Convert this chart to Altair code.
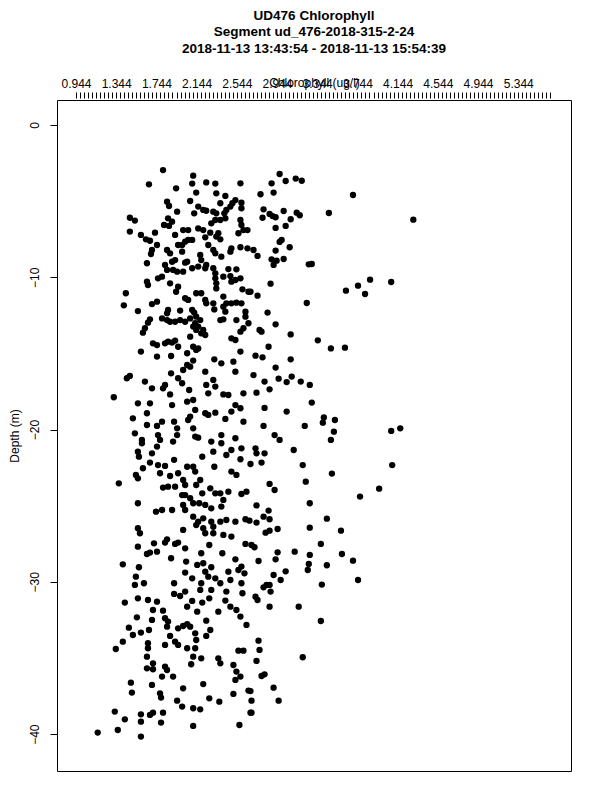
import altair as alt
import pandas as pd

TITLE_LINES = [
    "UD476 Chlorophyll",
    "Segment ud_476-2018-315-2-24",
    "2018-11-13 13:43:54 - 2018-11-13 15:54:39",
]
X_TITLE = "Chlorophyll (ug/l)"
Y_TITLE = "Depth (m)"
X_LABELS = ["0.944", "1.344", "1.744", "2.144", "2.544", "2.944",
            "3.344", "3.744", "4.144", "4.544", "4.944", "5.344"]
X_TICK_START = 0.944
X_TICK_STEP = 0.04
X_TICK_COUNT = 119
Y_TICKS = [0, -10, -20, -30, -40]
X_DOMAIN = [0.755, 5.869]
Y_DOMAIN = [-42.42, 1.64]

# (chlorophyll ug/l, depth m), by region
upper_core = [
    (1.81,-2.96),(2.11,-3.33),(1.67,-3.90),(2.10,-3.85),(2.24,-3.77),(2.33,-3.85),(2.58,-3.83),
    (1.94,-4.16),(2.14,-4.44),(2.34,-4.49),(2.43,-4.66),(1.85,-5.04),(1.87,-5.32),(2.08,-4.99),
    (2.16,-5.36),(2.21,-5.58),(2.24,-5.63),(2.38,-5.14),(2.53,-4.93),(2.50,-5.14),(2.48,-5.36),
    (2.44,-5.58),(2.42,-5.80),(2.59,-5.10),(2.59,-5.47),(1.95,-5.69),(2.12,-5.80),(2.31,-5.69),
    (2.34,-5.80),(2.33,-6.24),(2.38,-6.24),(2.43,-6.13),(1.48,-6.09),(1.53,-6.28),(1.86,-6.13),
    (1.90,-6.35),(1.82,-6.57),(1.87,-6.63),(2.29,-6.46),(2.58,-6.24),(2.59,-6.57),(2.61,-6.90),
    (2.56,-7.11),(2.65,-6.90),(1.48,-7.00),(1.59,-7.22),(1.64,-7.51),(1.68,-7.60),(1.73,-7.07),
    (2.01,-6.90),(2.06,-6.90),(2.16,-6.79),(2.21,-6.90),(2.23,-7.38),(2.28,-7.07),(2.34,-7.33),
    (2.38,-7.51),(2.36,-7.11),(1.93,-7.22),(1.96,-7.88),(2.00,-7.88),(2.03,-7.66),(2.06,-7.55),
    (2.10,-7.55),(1.75,-7.88),(1.70,-8.21),(1.69,-8.47),(1.85,-8.21),(1.88,-8.43),(1.90,-8.98),
    (1.93,-8.87),(2.00,-8.32),(2.05,-8.98),(2.18,-8.54),(2.19,-8.87),(2.26,-7.88),(2.31,-8.21),
    (2.33,-8.43),(2.39,-8.65),(2.49,-8.10),(2.48,-8.32),(2.58,-8.03),(2.65,-8.10),(1.65,-9.08),
    (1.83,-9.19),(1.85,-9.52),(1.91,-9.52),(1.95,-9.63),(2.01,-9.63),(2.03,-9.04),(2.10,-9.41),
    (2.16,-9.30),(2.23,-9.41),(2.24,-9.19),(2.31,-9.41),(2.33,-9.74),(2.33,-10.07),(2.34,-10.40),
    (2.41,-9.96),(2.46,-9.46),(2.54,-9.48),(2.48,-9.92),(2.49,-10.29),(2.53,-10.18),(2.58,-10.07),
    (1.65,-10.29),(1.66,-10.51),(1.76,-10.07),(1.80,-9.96),(1.88,-10.40),(1.96,-10.62),(1.94,-10.95),
    (2.14,-11.05),(2.19,-11.05),(2.23,-11.49),(2.24,-11.71),(2.31,-11.71),(2.34,-10.73),(2.41,-11.27),
    (2.60,-10.79),(2.66,-10.95),(1.44,-11.05),(1.42,-11.84),(1.56,-12.22),(1.70,-11.76),(1.75,-11.60),
    (1.86,-12.15),(1.85,-12.37),(1.98,-12.19),(2.03,-11.38),(2.06,-11.49),(2.10,-12.15),(2.12,-12.32),
    (2.14,-12.59),(2.18,-12.81),(2.21,-13.46),(2.16,-13.24),(2.11,-13.24),(2.32,-12.11),(2.41,-11.93),
    (2.44,-11.71),(2.49,-11.71),(2.54,-11.67),(2.59,-11.71),(2.63,-12.26),(2.43,-12.26),(1.68,-12.76),
    (1.66,-12.98),(1.80,-12.70),(1.85,-12.81),(1.88,-12.92),(1.93,-12.92),(1.98,-12.81),(2.03,-12.92),
    (2.08,-12.70),(2.13,-13.02),(2.14,-13.46),(2.19,-13.68),(2.23,-13.79),(2.38,-12.81),(2.41,-12.76),
    (2.54,-12.81),(2.63,-12.59),(2.66,-13.02),(2.61,-13.35),(2.58,-13.57),(1.63,-13.35),(1.61,-13.64),
    (2.08,-13.90),(2.49,-14.01),(2.53,-14.12),(1.71,-14.34),(1.75,-14.45),(1.83,-14.34),(1.86,-14.23),
    (1.90,-14.29),(1.93,-14.16),(1.96,-14.56),(2.11,-14.56),(2.16,-14.67),
]
upper_high = [
    (2.97,-3.22),(3.03,-3.68),(3.13,-3.52),(3.19,-3.66),(2.89,-3.83),(2.78,-4.55),(2.91,-4.44),
    (3.70,-4.60),(3.46,-5.78),(4.30,-6.22),(2.81,-5.54),(2.80,-6.09),(2.87,-5.84),(2.90,-5.98),
    (2.93,-6.06),(3.01,-5.65),(3.14,-5.76),(3.17,-5.93),(3.08,-6.19),(3.03,-6.63),(2.93,-6.76),
    (2.97,-7.68),(2.99,-7.55),(2.93,-8.25),(3.07,-8.03),(2.89,-8.82),(2.91,-9.19),(2.94,-8.91),
    (3.01,-8.80),(3.29,-9.13),(3.26,-9.15),(2.88,-10.42),(3.63,-10.88),(3.75,-10.55),(3.87,-10.16),
    (3.82,-11.10),(4.08,-10.31),(3.24,-11.69),(2.75,-11.21),(2.85,-12.32),(2.93,-13.09),(3.08,-13.75),
    (3.35,-14.14),(2.77,-13.46),(2.79,-13.57),(3.48,-14.67),(3.62,-14.62),(2.86,-14.56),(2.71,-8.21),
    (2.75,-8.60),(2.68,-10.95),
]
middle_core = [
    (1.59,-14.88),(1.75,-15.21),(1.89,-15.17),(2.05,-14.99),(2.14,-14.77),(2.32,-15.39),(2.39,-15.65),
    (2.51,-15.54),(2.53,-16.20),(2.58,-14.88),(2.05,-15.76),(2.08,-15.87),(2.11,-15.47),(2.01,-16.09),
    (1.89,-16.31),(1.96,-16.63),(2.00,-16.96),(1.45,-16.63),(1.48,-16.48),(1.63,-16.85),(1.70,-17.29),
    (1.81,-17.29),(1.83,-17.07),(2.23,-16.20),(2.24,-17.07),(2.31,-16.74),(2.33,-17.18),(2.26,-17.62),
    (2.41,-17.69),(2.46,-17.73),(2.61,-17.62),(1.88,-17.69),(1.90,-18.39),(2.07,-17.40),(1.32,-17.88),
    (1.56,-18.28),(1.68,-18.28),(2.05,-18.17),(2.11,-18.06),(2.13,-18.71),(2.08,-19.15),(2.06,-19.37),
    (2.23,-18.93),(2.26,-19.04),(2.33,-18.89),(2.43,-19.30),(2.49,-18.82),(2.53,-18.39),(2.58,-18.60),
    (2.61,-19.48),(1.65,-18.93),(1.51,-19.26),(1.65,-19.70),(1.75,-19.76),(1.80,-19.48),(1.92,-19.48),
    (1.95,-19.92),(2.11,-19.92),(2.13,-20.46),(2.16,-20.53),(2.29,-20.79),(2.39,-20.36),(2.39,-20.90),
    (2.53,-20.57),(1.53,-20.25),(1.60,-20.68),(1.60,-20.90),(1.76,-20.36),(1.78,-20.68),(1.75,-21.12),
    (1.70,-21.56),(1.91,-20.79),(1.95,-20.36),(1.56,-21.45),(1.57,-21.78),(1.92,-21.99),(2.05,-22.44),
    (2.11,-22.44),(2.13,-22.76),(2.20,-21.78),(2.31,-21.45),(2.32,-22.44),(2.44,-21.67),(2.49,-21.34),
    (2.59,-21.23),(2.58,-21.95),(2.49,-22.76),(2.54,-22.98),(1.68,-22.17),(1.61,-22.54),(1.76,-22.33),
    (1.83,-22.39),(1.54,-22.98),(1.56,-23.20),(1.37,-23.53),(1.78,-22.87),(1.88,-23.05),(1.96,-22.87),
    (2.01,-23.31),(2.03,-23.64),(2.14,-23.64),(2.18,-23.31),(2.20,-24.19),(2.28,-23.86),(2.33,-24.19),
    (2.38,-24.19),(2.46,-24.08),(2.59,-24.23),(2.64,-24.08),(1.81,-23.81),(1.86,-23.75),(1.93,-23.75),
    (2.00,-24.30),(2.03,-24.30),(2.08,-24.51),(2.11,-24.84),(2.01,-24.95),(2.17,-24.84),(2.23,-24.95),
    (2.29,-25.17),(2.41,-24.62),(2.39,-25.06),(1.56,-24.84),(1.74,-25.39),(1.80,-25.28),(1.90,-25.28),
    (2.03,-25.28),(2.11,-25.72),(2.16,-26.05),(2.21,-25.83),(2.29,-26.05),(2.31,-26.38),(2.38,-26.05),
    (2.44,-25.94),(2.53,-26.05),(2.63,-25.89),(2.21,-26.48),(2.23,-26.81),(2.31,-26.81),(2.41,-26.92),
    (2.49,-27.03),(1.56,-26.48),(1.58,-26.81),(2.01,-26.59),(2.14,-26.27),(1.85,-27.21),
]
middle_high = [
    (2.73,-15.15),(2.80,-15.26),(3.08,-15.39),(2.93,-15.93),(2.71,-16.42),(2.82,-16.85),(2.96,-16.66),
    (3.04,-16.88),(3.09,-16.52),(3.18,-16.85),(3.27,-17.07),(2.87,-17.36),(2.74,-17.58),(3.29,-18.23),
    (2.82,-18.58),(3.04,-18.82),(3.41,-19.20),(3.52,-19.37),(3.40,-19.55),(2.81,-19.76),(3.22,-19.76),
    (3.51,-20.14),(2.92,-20.36),(2.97,-20.68),(3.48,-20.68),(4.08,-20.09),(4.17,-19.92),(3.11,-21.34),
    (2.73,-21.23),(2.74,-21.56),(2.82,-21.56),(2.79,-22.17),(2.68,-22.26),(3.20,-22.33),(4.09,-22.33),
    (3.49,-22.89),(3.23,-23.42),(2.87,-23.57),(2.92,-23.97),(3.96,-23.88),(3.77,-24.40),(2.74,-24.98),
    (2.86,-25.32),(3.27,-24.84),(2.81,-25.72),(2.87,-25.89),(3.44,-25.85),(3.27,-26.44),(2.95,-26.53),
    (2.87,-26.64),(2.83,-26.77),(3.58,-26.64),(2.74,-26.11),(2.67,-25.98),
]
lower_core = [
    (1.56,-27.69),(1.72,-27.47),(1.83,-27.42),(1.93,-27.51),(1.96,-27.42),(2.03,-27.80),(2.19,-28.12),
    (2.27,-27.58),(2.40,-28.12),(2.53,-28.52),(2.63,-27.51),(1.41,-28.85),(1.57,-29.04),(1.68,-28.08),
    (1.75,-28.02),(1.65,-28.17),(1.89,-28.45),(2.04,-28.67),(2.15,-28.89),(2.21,-28.78),(2.29,-29.04),
    (2.23,-29.33),(2.26,-29.66),(2.33,-29.77),(2.38,-30.09),(2.46,-29.33),(2.56,-29.22),(2.59,-29.00),
    (2.62,-29.44),(1.54,-29.66),(1.53,-30.20),(1.62,-30.09),(1.92,-30.09),(2.03,-29.39),(2.10,-29.77),
    (2.19,-30.09),(2.18,-30.53),(2.29,-30.53),(2.44,-30.64),(2.48,-29.88),(2.59,-30.09),(2.60,-30.75),
    (1.43,-31.36),(1.56,-31.08),(1.66,-31.19),(1.75,-31.30),(1.71,-31.85),(1.81,-31.89),(1.92,-30.79),
    (1.98,-30.93),(2.03,-30.64),(2.05,-31.63),(2.10,-31.25),(2.15,-31.96),(2.20,-31.36),(2.27,-31.08),
    (2.36,-31.96),(2.43,-31.23),(2.48,-31.63),(2.54,-31.85),(2.58,-32.28),(2.64,-32.83),(1.55,-32.33),
    (1.47,-33.01),(1.51,-33.49),(1.59,-33.33),(1.67,-33.16),(1.70,-32.50),(1.83,-32.39),(1.86,-32.61),
    (1.85,-32.94),(1.88,-33.55),(1.96,-33.05),(2.01,-32.90),(2.05,-32.77),(2.08,-32.94),(2.13,-33.38),
    (2.14,-33.82),(2.24,-32.55),(2.28,-33.16),(2.24,-33.55),(1.83,-34.14),(1.93,-33.93),(1.96,-34.14),
    (2.05,-34.36),(2.13,-34.36),(1.34,-34.41),(1.41,-33.93),(1.66,-34.03),(1.66,-34.36),(1.65,-34.91),
    (1.71,-35.35),(1.65,-35.68),(1.71,-35.74),(1.83,-35.57),(1.85,-35.79),(1.80,-36.22),(1.91,-36.22),
    (2.11,-34.91),(2.19,-35.02),(2.09,-35.41),(2.36,-35.02),(2.38,-35.35),(2.51,-35.46),(2.54,-35.89),
    (2.58,-36.22),(2.53,-36.44),(2.56,-34.52),(2.61,-34.52),(1.49,-36.62),(1.50,-37.27),(1.70,-36.77),
    (1.78,-37.32),(1.79,-37.60),(2.01,-36.99),(1.95,-37.80),(2.00,-38.19),(2.11,-38.30),(2.18,-38.37),
    (2.21,-36.71),(2.27,-37.65),(2.37,-37.87),(2.51,-37.36),(2.66,-37.14),(1.33,-38.52),(1.43,-39.03),
    (1.59,-38.70),(1.68,-38.74),(1.71,-38.59),(1.81,-38.59),(1.59,-39.18),(1.79,-39.24),(1.16,-39.90),
    (1.36,-39.73),(1.59,-40.16),(2.11,-39.46),(2.57,-39.40),(2.68,-38.59),
]
lower_high = [
    (2.69,-27.58),(2.72,-27.73),(2.95,-28.06),(3.12,-28.02),(3.38,-27.51),(3.59,-28.17),(3.70,-28.61),
    (3.27,-28.23),(2.76,-28.63),(2.93,-28.52),(3.03,-29.31),(2.98,-29.88),(2.91,-29.55),(3.26,-28.82),
    (3.25,-29.22),(3.44,-28.91),(3.75,-29.88),(3.39,-30.18),(2.81,-30.36),(2.84,-30.20),(2.87,-30.20),
    (2.88,-30.64),(2.73,-30.97),(2.75,-31.19),(2.87,-31.63),(3.16,-31.63),(3.38,-32.57),(2.76,-33.86),
    (2.77,-34.47),(2.74,-35.19),(3.20,-34.95),(2.79,-36.18),(2.82,-36.07),(2.91,-36.95),(2.96,-37.80),
    (2.68,-37.17),(2.69,-37.80),(2.69,-38.59),
]

bands = [upper_core, upper_high, middle_core, middle_high, lower_core, lower_high]
df = pd.DataFrame([{"chl": c, "depth": d} for band in bands for c, d in band])

minor_ticks = [round(X_TICK_START + X_TICK_STEP * k, 3) for k in range(X_TICK_COUNT)]
label_list = "[" + ",".join("'" + s + "'" for s in X_LABELS) + "]"
label_expr = (f"indexof({label_list}, format(datum.value, '.3f')) >= 0 "
              f"? format(datum.value, '.3f') : ''")

FONT = "Liberation Sans"

x_axis = alt.Axis(
    orient="top", values=minor_ticks, labelExpr=label_expr, labelOverlap=False,
    labelFlush=False, tickSize=6, tickColor="black", tickWidth=1, domain=False,
    grid=False, offset=2, labelPadding=2, labelFont=FONT, labelFontSize=12,
    labelColor="black", title=X_TITLE, titleFont=FONT, titleFontSize=12,
    titleFontWeight="normal", titleColor="black", titleY=-16,
    titleBaseline="middle",
)
y_axis = alt.Axis(
    values=Y_TICKS, tickSize=7, tickColor="black", domain=False, grid=False,
    labelAngle=270, labelAlign="center", labelBaseline="bottom", labelPadding=9,
    labelFont=FONT, labelFontSize=12, labelColor="black", title=Y_TITLE,
    titleFont=FONT, titleFontSize=12, titleFontWeight="normal", titleColor="black",
    titleAngle=270, titleX=-43, titleBaseline="middle",
)

chart = (
    alt.Chart(df)
    .mark_circle(size=40, color="black", opacity=1)
    .encode(
        x=alt.X("chl:Q", scale=alt.Scale(domain=X_DOMAIN, nice=False, zero=False), axis=x_axis),
        y=alt.Y("depth:Q", scale=alt.Scale(domain=Y_DOMAIN, nice=False, zero=False), axis=y_axis),
    )
    .properties(
        width=514, height=671,
        title=alt.TitleParams(
            text=TITLE_LINES, anchor="middle", frame="group", font=FONT,
            fontSize=13.5, fontWeight="bold", lineHeight=16.5, offset=21, color="black",
        ),
        padding={"left": 49, "top": 92, "right": 21, "bottom": 21},
        autosize=alt.AutoSizeParams(type="none"),
        background="white",
    )
    .configure_view(stroke="black", strokeWidth=1)
)

chart.save("out.html", embed_options={"renderer": "svg", "actions": False})
